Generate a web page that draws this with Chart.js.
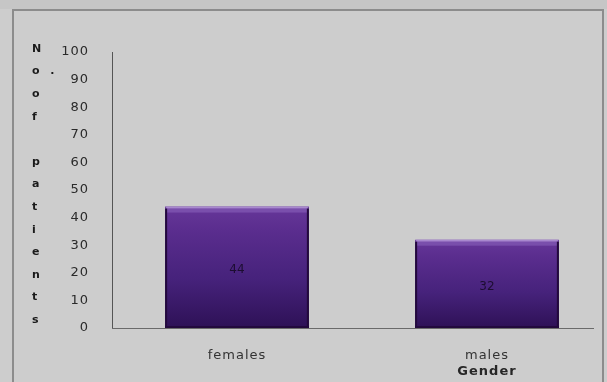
<!DOCTYPE html>
<html>
<head>
<meta charset="utf-8">
<script src="https://cdn.jsdelivr.net/npm/chart.js@4/dist/chart.umd.min.js"></script>
<style>
  html, body { margin: 0; padding: 0; background: #cdcdcd; overflow: hidden; }
  #wrap { width: 607px; height: 382px; position: relative; overflow: hidden; }
  #c { position: absolute; left: 0; top: 0; }
</style>
</head>
<body>
<div id="wrap"><canvas id="c" width="612" height="382"></canvas></div>
<script>
// Number of patients by gender
const categories = ['females', 'males'];
const patients = [44, 32];
const yMin = 0, yMax = 100, yStep = 10;
const yTitleLines = ['N', 'o  .', 'o', 'f', '', 'p', 'a', 't', 'i', 'e', 'n', 't', 's'];
const xTitle = 'Gender';
const panelWidth = 607;

// Panel background and outer frame
const framePlugin = {
  id: 'frame',
  beforeDraw(chart) {
    const c = chart.ctx;
    c.save();
    c.fillStyle = '#cdcdcd';
    c.fillRect(0, 0, chart.width, chart.height);
    c.fillStyle = '#c6c6c6';
    c.fillRect(0, 0, chart.width, 9);
    c.strokeStyle = '#8c8c8c';
    c.lineWidth = 2;
    c.strokeRect(13, 10, panelWidth - 17, chart.height + 10);
    c.restore();
    c.letterSpacing = '1px';
  }
};

// Baseline along the category axis
const baselinePlugin = {
  id: 'baseline',
  beforeDatasetsDraw(chart) {
    const c = chart.ctx, a = chart.chartArea;
    const y0 = Math.round(chart.scales.y.getPixelForValue(0)) + 0.5;
    c.save();
    c.strokeStyle = '#6a6a6a';
    c.lineWidth = 1;
    c.beginPath();
    c.moveTo(a.left, y0);
    c.lineTo(panelWidth - 13, y0);
    c.stroke();
    c.restore();
  }
};

// Bevel edges on the bars and value labels inside them
const bevelPlugin = {
  id: 'bevel',
  afterDatasetsDraw(chart) {
    const c = chart.ctx;
    const meta = chart.getDatasetMeta(0);
    c.save();
    c.letterSpacing = '0px';
    meta.data.forEach((bar, i) => {
      const left = bar.x - bar.width / 2;
      const top = bar.y, h = bar.base - bar.y, w = bar.width;
      c.fillStyle = 'rgba(180,150,215,0.85)';
      c.fillRect(left + 1, top, w - 2, 2);
      c.fillStyle = 'rgba(140,100,190,0.55)';
      c.fillRect(left + 1, top + 2, w - 2, 4);
      c.fillStyle = '#23093d';
      c.fillRect(left, top + 2, 2, h - 2);
      c.fillRect(left + w - 2, top + 2, 2, h - 2);
      c.fillRect(left, bar.base - 2, w, 2);
      c.fillStyle = '#1c0d30';
      c.font = '12px "DejaVu Sans"';
      c.textAlign = 'center';
      c.textBaseline = 'middle';
      c.fillText(String(patients[i]), bar.x, top + h / 2 + 3);
    });
    c.restore();
  }
};

// Stacked y-axis title and the category-axis title
const titlesPlugin = {
  id: 'titles',
  afterDraw(chart) {
    const c = chart.ctx, a = chart.chartArea;
    c.save();
    c.fillStyle = '#1a1a1a';
    c.font = 'bold 11px "DejaVu Sans"';
    c.textAlign = 'left';
    c.textBaseline = 'middle';
    const y0 = a.top - 3, y1 = a.bottom - 8;
    const step = (y1 - y0) / (yTitleLines.length - 1);
    yTitleLines.forEach((t, i) => c.fillText(t, 32, y0 + i * step));
    const xs = chart.scales.x;
    c.font = 'bold 13px "DejaVu Sans"';
    c.textAlign = 'center';
    c.fillStyle = '#262626';
    c.fillText(xTitle, xs.getPixelForTick(categories.length - 1), 372);
    c.restore();
  }
};

function barFill(ctx) {
  const chart = ctx.chart;
  if (!chart.chartArea) return '#4a2480';
  const ys = chart.scales.y;
  const top = ys.getPixelForValue(ctx.raw);
  const bottom = ys.getPixelForValue(0);
  const g = chart.ctx.createLinearGradient(0, top, 0, bottom);
  g.addColorStop(0, '#663799');
  g.addColorStop(0.2, '#5a2d8e');
  g.addColorStop(0.6, '#46227b');
  g.addColorStop(1, '#2e1156');
  return g;
}

new Chart(document.getElementById('c'), {
  type: 'bar',
  data: {
    labels: categories,
    datasets: [{
      data: patients,
      backgroundColor: barFill,
      borderWidth: 0,
      categoryPercentage: 1,
      barPercentage: 0.575
    }]
  },
  options: {
    responsive: false,
    devicePixelRatio: 1,
    animation: false,
    layout: { padding: { top: 52, left: 0, right: 0, bottom: 0 } },
    plugins: { legend: { display: false }, tooltip: { enabled: false } },
    scales: {
      x: {
        grid: { display: false, drawTicks: false },
        border: { display: false },
        ticks: { color: '#333', font: { family: 'DejaVu Sans', size: 13 }, padding: 20 },
        afterFit(s) { s.height = 54; }
      },
      y: {
        min: yMin, max: yMax,
        grid: { display: false, drawTicks: false },
        border: { display: true, color: '#555', width: 1 },
        ticks: { stepSize: yStep, color: '#2a2a2a', font: { family: 'DejaVu Sans', size: 13 }, padding: 23 },
        afterFit(s) { s.width = 112; }
      }
    }
  },
  plugins: [framePlugin, baselinePlugin, bevelPlugin, titlesPlugin]
});
</script>
</body>
</html>
